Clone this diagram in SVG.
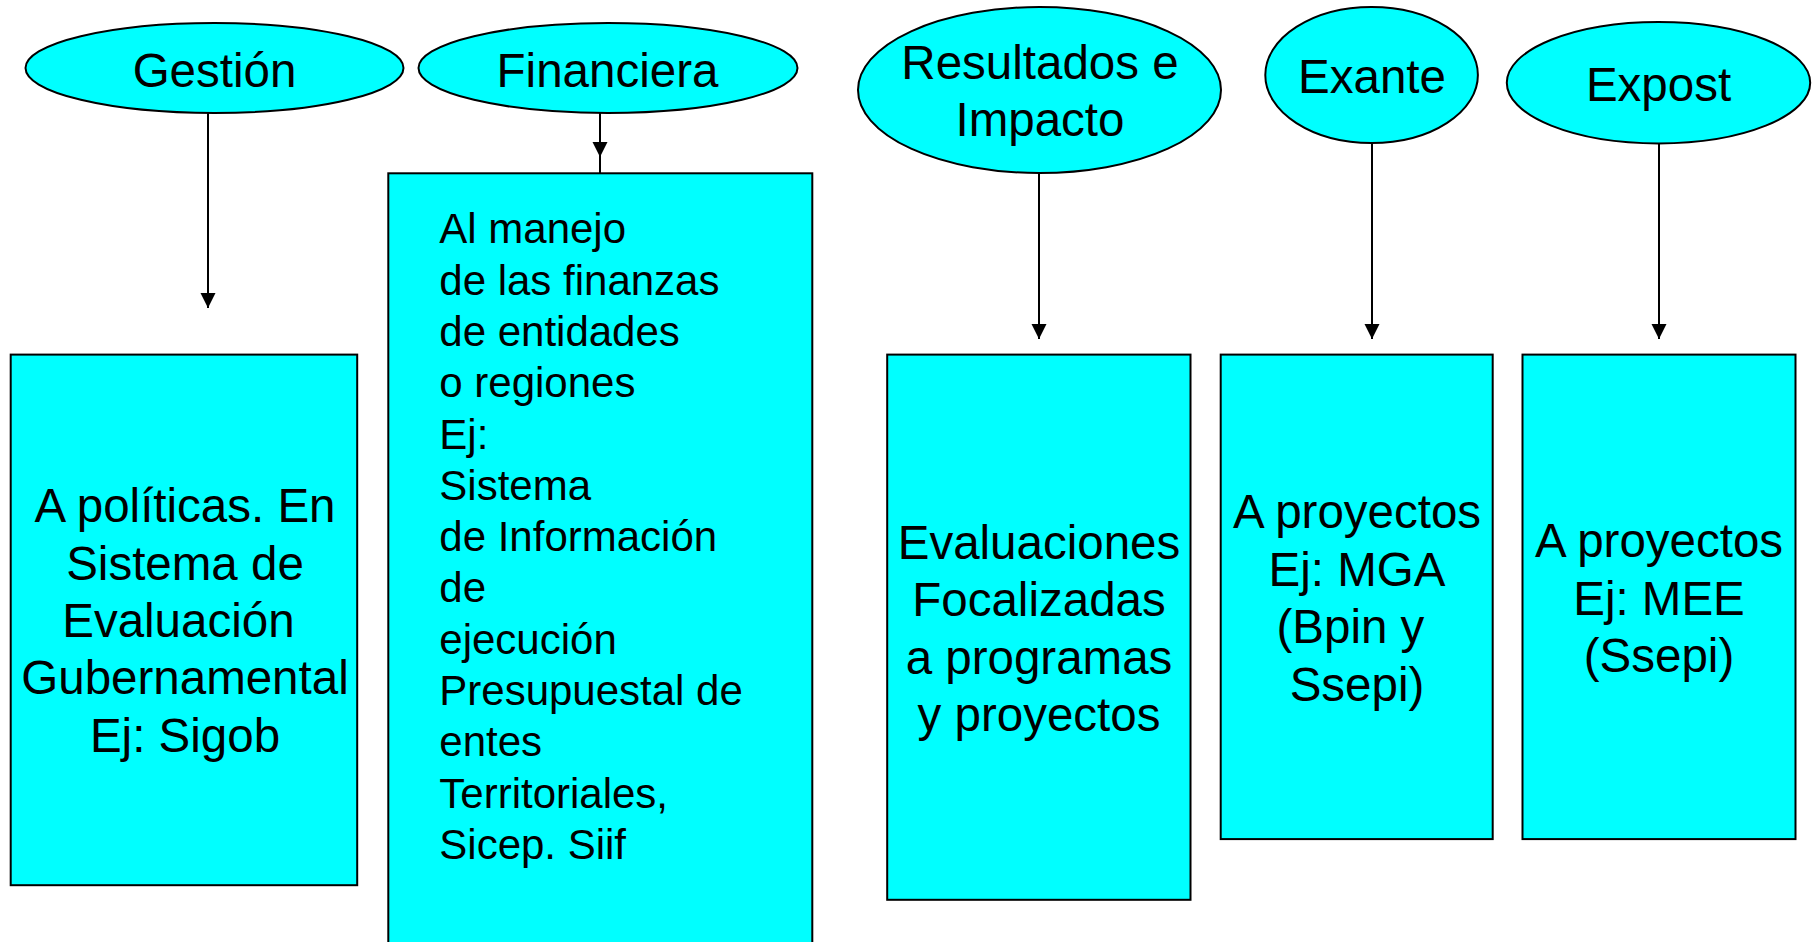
<svg xmlns="http://www.w3.org/2000/svg" width="1814" height="942" viewBox="0 0 1814 942">
<style>
.shape{fill:#00FFFF;stroke:#000;stroke-width:2}
.t{font-family:"Liberation Sans",Arial,sans-serif;font-size:47.5px;fill:#000}
.c{text-anchor:middle}
.f{font-family:"Liberation Sans",Arial,sans-serif;font-size:42px;fill:#000}
.conn{stroke:#000;stroke-width:2;fill:none}
</style>
<defs>
<marker id="arr" markerUnits="userSpaceOnUse" markerWidth="16" markerHeight="16" viewBox="0 0 16 16" refX="15" refY="8" orient="auto">
<path d="M0,0.5 L15,8 L0,15.5 z" fill="#000"/>
</marker>
</defs>
<rect width="1814" height="942" fill="#fff"/>
<g id="connectors">
<line class="conn" x1="208" y1="113" x2="208" y2="308" marker-end="url(#arr)"/>
<line class="conn" x1="600" y1="113" x2="600" y2="157" marker-end="url(#arr)"/>
<line class="conn" x1="600" y1="155" x2="600" y2="173"/>
<line class="conn" x1="1039" y1="173" x2="1039" y2="339" marker-end="url(#arr)"/>
<line class="conn" x1="1372" y1="143" x2="1372" y2="339" marker-end="url(#arr)"/>
<line class="conn" x1="1659" y1="143" x2="1659" y2="339" marker-end="url(#arr)"/>
</g>
<g id="gestion">
<ellipse class="shape" cx="214.5" cy="68" rx="189" ry="45"/>
<text class="t c" x="214.5" y="86.7">Gestión</text>
</g>
<g id="financiera">
<ellipse class="shape" cx="608" cy="68" rx="189.5" ry="45"/>
<text class="t c" x="607.5" y="86.7">Financiera</text>
</g>
<g id="resultados">
<ellipse class="shape" cx="1039.5" cy="90" rx="181.5" ry="83"/>
<text class="t c" x="1040" y="79.3">Resultados e</text>
<text class="t c" x="1040" y="136">Impacto</text>
</g>
<g id="exante">
<ellipse class="shape" cx="1371.6" cy="75" rx="106.3" ry="68"/>
<text class="t c" x="1372" y="92.7">Exante</text>
</g>
<g id="expost">
<ellipse class="shape" cx="1658.5" cy="82.7" rx="151.7" ry="60.7"/>
<text class="t c" x="1658.5" y="100.7">Expost</text>
</g>
<g id="box-gestion">
<rect class="shape" x="10.7" y="354.6" width="346.5" height="530.6"/>
<text class="t c" x="185" y="522.3">A políticas. En</text>
<text class="t c" x="185" y="580">Sistema de</text>
<text class="t c" x="185" y="637.3" xml:space="preserve">Evaluación </text>
<text class="t c" x="185" y="694.3">Gubernamental</text>
<text class="t c" x="185" y="751.7">Ej: Sigob</text>
</g>
<g id="box-financiera">
<rect class="shape" x="388.3" y="173.3" width="424" height="790"/>
<text class="f" x="439.3" y="243.3">Al manejo</text>
<text class="f" x="439.3" y="294.6">de las finanzas</text>
<text class="f" x="439.3" y="345.9">de entidades</text>
<text class="f" x="439.3" y="397.2">o regiones</text>
<text class="f" x="439.3" y="448.5">Ej:</text>
<text class="f" x="439.3" y="499.8">Sistema</text>
<text class="f" x="439.3" y="551.1">de Información</text>
<text class="f" x="439.3" y="602.4">de</text>
<text class="f" x="439.3" y="653.7">ejecución</text>
<text class="f" x="439.3" y="705">Presupuestal de</text>
<text class="f" x="439.3" y="756.3">entes</text>
<text class="f" x="439.3" y="807.6">Territoriales,</text>
<text class="f" x="439.3" y="858.9">Sicep. Siif</text>
</g>
<g id="box-resultados">
<rect class="shape" x="887.2" y="354.6" width="303.3" height="545.2"/>
<text class="t c" x="1039" y="558.8">Evaluaciones</text>
<text class="t c" x="1039" y="616.3">Focalizadas</text>
<text class="t c" x="1039" y="673.8">a programas</text>
<text class="t c" x="1039" y="731.3">y proyectos</text>
</g>
<g id="box-exante">
<rect class="shape" x="1220.7" y="354.6" width="272" height="484.5"/>
<text class="t c" x="1357" y="528.3">A proyectos</text>
<text class="t c" x="1357" y="586">Ej: MGA</text>
<text class="t c" x="1357" y="643.3" xml:space="preserve">(Bpin y </text>
<text class="t c" x="1357" y="701">Ssepi)</text>
</g>
<g id="box-expost">
<rect class="shape" x="1522.5" y="354.6" width="273" height="484.5"/>
<text class="t c" x="1659" y="557">A proyectos</text>
<text class="t c" x="1659" y="614.5">Ej: MEE</text>
<text class="t c" x="1659" y="672">(Ssepi)</text>
</g>
</svg>
